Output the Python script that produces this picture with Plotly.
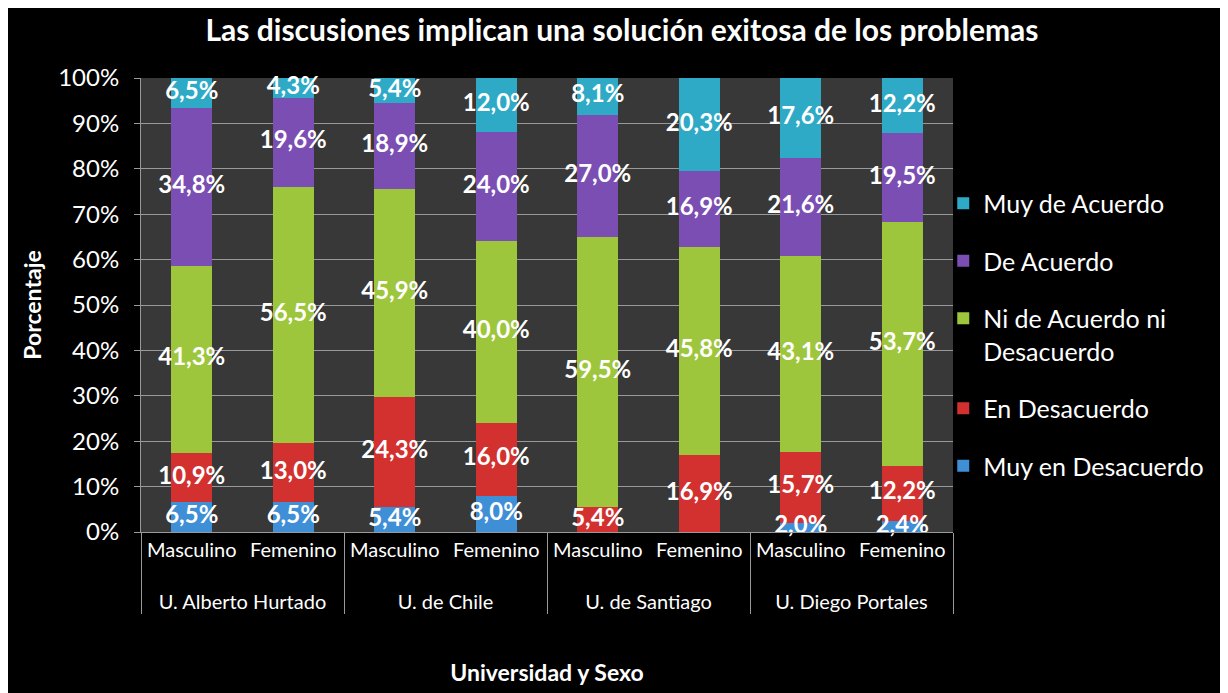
import plotly.graph_objects as go

universidades = ["U. Alberto Hurtado", "U. Alberto Hurtado", "U. de Chile", "U. de Chile",
                 "U. de Santiago", "U. de Santiago", "U. Diego Portales", "U. Diego Portales"]
sexo = ["Masculino", "Femenino"] * 4

muy_en_desacuerdo = [6.5, 6.5, 5.4, 8.0, 0.0, 0.0, 2.0, 2.4]
en_desacuerdo = [10.9, 13.0, 24.3, 16.0, 5.4, 16.9, 15.7, 12.2]
ni_ni = [41.3, 56.5, 45.9, 40.0, 59.5, 45.8, 43.1, 53.7]
de_acuerdo = [34.8, 19.6, 18.9, 24.0, 27.0, 16.9, 21.6, 19.5]
muy_de_acuerdo = [6.5, 4.3, 5.4, 12.0, 8.1, 20.3, 17.6, 12.2]

series = [
    ("Muy en Desacuerdo", muy_en_desacuerdo, "#3f8fd6"),
    ("En Desacuerdo", en_desacuerdo, "#d3312f"),
    ("Ni de Acuerdo ni<br>Desacuerdo", ni_ni, "#9ec63c"),
    ("De Acuerdo", de_acuerdo, "#7b4eb3"),
    ("Muy de Acuerdo", muy_de_acuerdo, "#2eaac6"),
]

FONT = "Lato"
# first-level labels padded with an empty line to space the two label levels
sexo_lbl = [s + "<br>\u00a0" for s in sexo]

fig = go.Figure()
x = [universidades, sexo_lbl]
base = [0.0] * len(sexo)
lab_x_u, lab_x_s, lab_y, lab_t = [], [], [], []
n = len(series)
for i, (name, vals, col) in enumerate(series):
    fig.add_trace(go.Bar(
        x=x, y=vals, name=name, marker=dict(color=col, line=dict(width=0)),
        width=0.4, legendgroup=str(i), legendrank=n - i,
    ))
    for j, v in enumerate(vals):
        if v > 0:
            lab_x_u.append(universidades[j])
            lab_x_s.append(sexo_lbl[j])
            lab_y.append(base[j] + v / 2)
            lab_t.append(f"{v:.1f}%".replace(".", ","))
        base[j] += v

fig.add_trace(go.Scatter(
    x=[lab_x_u, lab_x_s], y=lab_y, text=lab_t, mode="text",
    textfont=dict(family=FONT, size=24, color="white", weight="bold"),
    showlegend=False, hoverinfo="skip", cliponaxis=False,
))

fig.update_layout(
    barmode="stack",
    width=1228, height=693,
    paper_bgcolor="black",
    plot_bgcolor="#383838",
    margin=dict(l=133, r=283, t=70, b=169, autoexpand=False),
    font=dict(family=FONT, color="white", size=16),
    title=dict(text="<b>Las discusiones implican una solución exitosa de los problemas</b>",
               x=0.5, xanchor="center", y=0.968, yanchor="middle",
               font=dict(family=FONT, size=30, color="white")),
    legend=dict(x=0.988, xanchor="left", y=0.774, yanchor="top",
                traceorder="grouped", tracegroupgap=22, valign="top",
                font=dict(family=FONT, size=25, color="white"),
                bgcolor="rgba(0,0,0,0)"),
    showlegend=True,
)
fig.update_yaxes(range=[0, 100], dtick=10, ticksuffix="%",
                 showgrid=True, gridcolor="#9a9a9a", gridwidth=1,
                 showline=True, linecolor="#9a9a9a", ticks="outside",
                 tickcolor="#9a9a9a", ticklen=6, ticklabelstandoff=10,
                 tickfont=dict(family=FONT, size=24, color="white"),
                 title=dict(text="<b>Porcentaje</b>", standoff=10,
                            font=dict(family=FONT, size=23, color="white")),
                 zeroline=False)
fig.update_xaxes(type="multicategory", showgrid=False, tickangle=0,
                 showline=True, linecolor="#9a9a9a",
                 showdividers=True, dividercolor="#9a9a9a", dividerwidth=1,
                 tickfont=dict(family=FONT, size=20, color="white"),
                 title=dict(text="<b>Universidad y Sexo</b>", standoff=52,
                            font=dict(family=FONT, size=23, color="white")))

fig.write_html("out.html")
